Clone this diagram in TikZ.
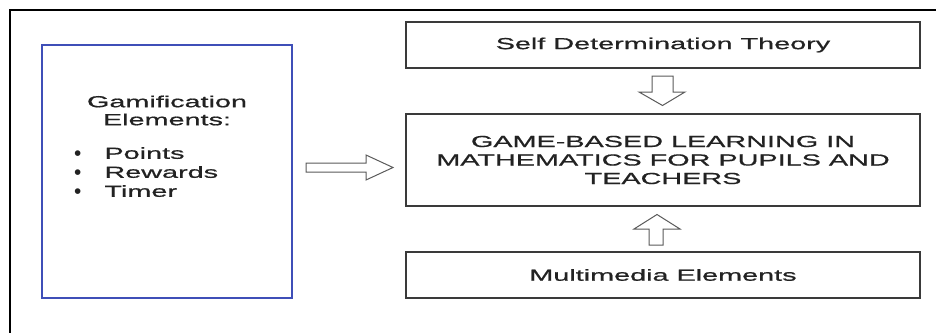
\documentclass[tikz,border=0pt]{standalone}
\usepackage{fontspec}
\usetikzlibrary{calc}
\setmainfont{Liberation Sans}
\newfontfamily\widefont{Liberation Sans}[FakeStretch=1.8,FakeBold=0.8]
\definecolor{boxline}{HTML}{3A3A3A}
\definecolor{blueline}{HTML}{3F4FB8}
\definecolor{txt}{HTML}{222222}
\definecolor{arrline}{HTML}{5A5A5A}
\tikzset{
  plainbox/.style={draw=boxline, line width=1.5pt, inner sep=0pt, outer sep=0pt,
    minimum width=514pt, text=txt, font=\widefont\fontsize{16}{18.5}\selectfont, align=center},
  bluebox/.style={draw=blueline, line width=1.8pt, inner sep=0pt, outer sep=0pt,
    minimum width=250pt, minimum height=253pt},
  label/.style={inner sep=0pt, text=txt, font=\widefont\fontsize{16}{18}\selectfont, align=center},
  hollow/.style={draw=arrline, line width=1pt, fill=white, line join=miter}
}
\newcommand{\bigbul}{\raisebox{-1.6pt}{\scalebox{1.3}{\textbullet}}}
\begin{document}
\begin{tikzpicture}[x=1pt,y=-1pt]
\useasboundingbox (0,0) rectangle (936,332);
% outer frame
\coordinate (fbl) at (10,333);
\coordinate (ftl) at (10,10);
\coordinate (ftr) at (937,10);
\draw[line width=1.8pt, black] (fbl) -- (ftl) -- (ftr);

% boxes
\node[bluebox] (gam) at (167,171.5) {};
\node[label] (gamtitle) at (167,110.5) {Gamification\\Elements:};
\node[inner sep=0pt, anchor=west, text=txt] (gamlist) at (74,174) {%
  \fontsize{16}{19}\selectfont
  \begin{tabular}{@{}l@{\hspace{23pt}}l@{}}
  \bigbul & \widefont Points\\
  \bigbul & \widefont Rewards\\
  \bigbul & \widefont Timer
  \end{tabular}};

\node[plainbox, minimum height=46pt] (sdt) at (663,45) {Self Determination Theory};
\node[plainbox, minimum height=92pt] (gbl) at (663,160)
  {GAME-BASED LEARNING IN\\MATHEMATICS FOR PUPILS AND\\TEACHERS};
\node[plainbox, minimum height=46pt] (mm) at (663,275) {Multimedia Elements};

% hollow block arrows
% gamification -> game-based learning
\draw[hollow] ($(gam.east)+(14,-8.5)$) -- ++(60,0) -- ++(0,-8) -- ($(gbl.west)+(-13,7.5)$)
  -- ($(gam.east)+(74,8.5)$) -- ++(0,-8) -- ++(-60,0) -- cycle;
% sdt -> game-based learning
\draw[hollow] ($(sdt.south)+(-11,8)$) -- ++(21,0) -- ++(0,16) -- ++(12,0)
  -- ($(gbl.north)+(-0.5,-8.5)$) -- ($(sdt.south)+(-24,24)$) -- ++(13,0) -- cycle;
% multimedia -> game-based learning
\draw[hollow] ($(mm.north)+(-14,-7)$) -- ++(14,0) -- ++(0,-16) -- ++(17,0)
  -- ($(gbl.south)+(-6,8.5)$) -- ($(mm.north)+(-29,-23)$) -- ++(15,0) -- cycle;
\end{tikzpicture}
\end{document}
